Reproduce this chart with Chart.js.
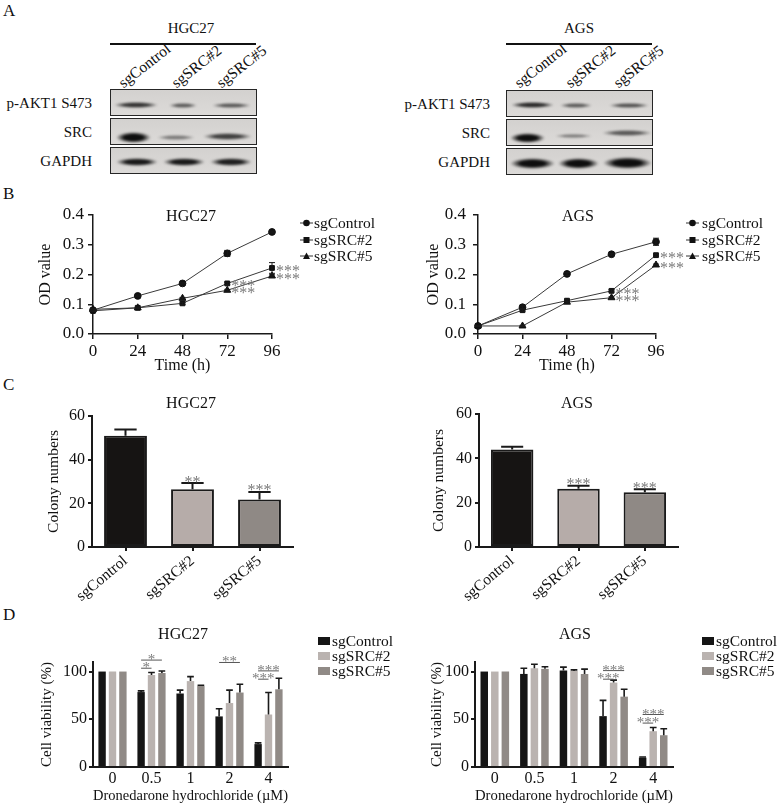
<!DOCTYPE html>
<html>
<head>
<meta charset="utf-8">
<script src="https://cdn.jsdelivr.net/npm/chart.js@4.4.1/dist/chart.umd.min.js"></script>
<style>
  html, body { margin: 0; padding: 0; background: #fff; }
  #page { position: relative; width: 777px; height: 805px; overflow: hidden;
          font-family: "Liberation Serif", "Times New Roman", serif; color: #111; }
  .txt { position: absolute; white-space: nowrap; line-height: 1; }
  canvas { position: absolute; }
  .rule { position: absolute; height: 1.5px; background: #111; }
  .blot { position: absolute; box-sizing: border-box; border: 1.5px solid #262626;
          background: linear-gradient(#d3d1cf, #dcdad8); overflow: hidden; }
  .band { position: absolute; filter: blur(0.8px); }
  .key { position: absolute; }
</style>
</head>
<body>
<div id="page"></div>
<script>
// ---- data ----
const seriesNames = ['sgControl', 'sgSRC#2', 'sgSRC#5'];

// B: proliferation (OD value)
const timeHours = [0, 24, 48, 72, 96];
const odTicks = [0, 0.1, 0.2, 0.3, 0.4];
const hgcOdControl = [0.080, 0.128, 0.170, 0.271, 0.343];
const hgcOdSrc2 = [0.078, 0.088, 0.103, 0.170, 0.222];
const hgcOdSrc5 = [0.083, 0.088, 0.120, 0.147, 0.195];
const hgcOdControlErr = [0.003, 0.003, 0.002, 0.010, 0.003];
const hgcOdSrc2Err = [0.003, 0.002, 0.004, 0.004, 0.018];
const hgcOdSrc5Err = [0.003, 0.002, 0.003, 0.003, 0.004];
const agsOdControl = [0.027, 0.090, 0.202, 0.268, 0.310];
const agsOdSrc2 = [0.027, 0.080, 0.112, 0.145, 0.265];
const agsOdSrc5 = [0.027, 0.027, 0.107, 0.122, 0.232];
const agsOdControlErr = [0.002, 0.004, 0.005, 0.003, 0.012];
const agsOdSrc2Err = [0.002, 0.003, 0.004, 0.004, 0.004];
const agsOdSrc5Err = [0.002, 0.002, 0.003, 0.003, 0.003];
const odSigNone = ['', '', '', '', ''];
const odSig = ['', '', '', '***', '***'];

// C: colony formation
const colonyTicks = [0, 20, 40, 60];
const hgcColony = [51, 26.5, 21.8];
const hgcColonyErr = [2.8, 2.8, 3.4];
const hgcColonySig = ['', '**', '***'];
const agsColony = [44, 26.3, 24.7];
const agsColonyErr = [1.2, 1.3, 1.4];
const agsColonySig = ['', '***', '***'];

// D: cell viability vs dronedarone dose
const doses = ['0', '0.5', '1', '2', '4'];
const viabilityTicks = [0, 50, 100];
const hgcViaControl = [100, 78.5, 77, 53, 24];
const hgcViaSrc2 = [100, 96.5, 90, 67, 55];
const hgcViaSrc5 = [100, 98.5, 85, 78, 81.4];
const hgcViaControlErr = [0, 1.2, 3.5, 8, 1.3];
const hgcViaSrc2Err = [0, 2.5, 4.7, 13.5, 23];
const hgcViaSrc5Err = [0, 2, 0.6, 8.7, 11.6];
const agsViaControl = [100, 97.5, 101, 53.3, 9.8];
const agsViaSrc2 = [100, 103.5, 100.7, 88.4, 37.5];
const agsViaSrc5 = [100, 102.8, 97.5, 73.7, 33.3];
const agsViaControlErr = [0, 6, 3.6, 16.5, 0.7];
const agsViaSrc2Err = [0, 4.2, 1.1, 2.6, 3.9];
const agsViaSrc5Err = [0, 2.2, 5, 7.7, 6.7];
const hgcViaBrackets = [
  { dose: 1, from: 0, to: 1, level: 103.5, mark: '*' },
  { dose: 1, from: 0, to: 2, level: 112, mark: '*' },
  { dose: 3, from: 0, to: 2, level: 109.5, mark: '**' },
  { dose: 4, from: 0, to: 1, level: 92, mark: '***' },
  { dose: 4, from: 0, to: 2, level: 100.7, mark: '***' }
];
const agsViaBrackets = [
  { dose: 3, from: 0, to: 1, level: 92, mark: '***' },
  { dose: 3, from: 0, to: 2, level: 101, mark: '***' },
  { dose: 4, from: 0, to: 1, level: 46, mark: '***' },
  { dose: 4, from: 0, to: 2, level: 55, mark: '***' }
];

// ---- look ----
const SERIF = '"Liberation Serif", "Times New Roman", serif';
const AXIS = '#1a1a1a';
const STAR = '#7a7a7a';
const colonyColors = ['#161413', '#b6aca9', '#8f8985'];
const viaColors = ['#151515', '#bab3b0', '#908a86'];
const odShapes = ['circle', 'rect', 'triangle'];

Chart.defaults.font.family = SERIF;
Chart.defaults.font.size = 15;
Chart.defaults.color = '#111';

const page = document.getElementById('page');

function addText(str, x, y, size, anchor) {
  const d = document.createElement('div');
  d.className = 'txt';
  d.textContent = str;
  d.style.fontSize = size + 'px';
  d.style.left = x + 'px';
  d.style.top = y + 'px';
  const tx = anchor === 'left' ? '0' : anchor === 'right' ? '-100%' : '-50%';
  d.style.transform = 'translate(' + tx + ', -50%)';
  page.appendChild(d);
  return d;
}

function addSlanted(str, x, y, size, angle) {
  const d = document.createElement('div');
  d.className = 'txt';
  d.textContent = str;
  d.style.fontSize = size + 'px';
  d.style.left = x + 'px';
  d.style.top = (y - size) + 'px';
  d.style.transformOrigin = '0 100%';
  d.style.transform = 'rotate(' + angle + 'deg)';
  page.appendChild(d);
}

function addRule(x1, x2, y) {
  const d = document.createElement('div');
  d.className = 'rule';
  d.style.left = x1 + 'px';
  d.style.width = (x2 - x1) + 'px';
  d.style.top = y + 'px';
  page.appendChild(d);
}

function makeCanvas(left, top, w, h) {
  const c = document.createElement('canvas');
  c.width = w; c.height = h;
  c.style.left = left + 'px';
  c.style.top = top + 'px';
  page.appendChild(c);
  return c;
}

// ---- panel letters ----
addText('A', 3, 10, 17, 'left');
addText('B', 3, 193, 17, 'left');
addText('C', 3, 384, 17, 'left');
addText('D', 3, 614, 17, 'left');

// ---- A: western blots (drawn as shapes, not data) ----
const blotPanels = [
  { cell: 'HGC27', left: 110, titleX: 191, labelRight: 92, lanesX: [125, 178, 223],
    rows: [
      { top: 89, bands: [[3, 47, 15, 6, .8], [58, 86, 15, 5, .6], [101, 140, 15, 5, .62]] },
      { top: 118, bands: [[5, 40, 18, 11, 1], [46, 84, 18, 5, .45], [92, 141, 17, 7, .75]] },
      { top: 147, bands: [[5, 47, 14, 8, .95], [52, 94, 14, 8, .95], [99, 141, 14, 8, .92]] }
    ] },
  { cell: 'AGS', left: 506, titleX: 579, labelRight: 490, lanesX: [521, 572, 620],
    rows: [
      { top: 90, bands: [[4, 47, 14, 6, .85], [53, 85, 14, 5, .6], [102, 142, 14, 5, .65]] },
      { top: 119, bands: [[3, 38, 18, 10, 1], [48, 85, 16, 4, .45], [95, 145, 13, 6, .62]] },
      { top: 148, bands: [[3, 48, 14, 11, 1], [51, 92, 14, 11, 1], [96, 145, 14, 12, 1]] }
    ] }
];
const blotRowNames = ['p-AKT1 S473', 'SRC', 'GAPDH'];

blotPanels.forEach(p => {
  addText(p.cell, p.titleX, 28, 15);
  addRule(p.left, p.left + 146, 43);
  seriesNames.forEach((name, i) => addSlanted(name, p.lanesX[i], 90, 15.5, -38));
  p.rows.forEach((row, r) => {
    const box = document.createElement('div');
    box.className = 'blot';
    box.style.left = p.left + 'px';
    box.style.top = row.top + 'px';
    box.style.width = '147px';
    box.style.height = '27px';
    row.bands.forEach(b => {
      const d = document.createElement('div');
      d.className = 'band';
      d.style.left = b[0] + 'px';
      d.style.width = (b[1] - b[0]) + 'px';
      d.style.top = (b[2] - b[3] / 2) + 'px';
      d.style.height = b[3] + 'px';
      d.style.background = 'radial-gradient(closest-side, rgba(14,14,14,' + b[4] + ') 0%, rgba(14,14,14,' +
        b[4] + ') 55%, rgba(14,14,14,0) 100%)';
      box.appendChild(d);
    });
    page.appendChild(box);
    addText(blotRowNames[r], p.labelRight, row.top + 14, 15, 'right');
  });
});

// ---- chart helpers ----
function fixedBox(size, horizontal) {
  return function (scale) {
    if (horizontal) scale.height = size; else scale.width = size;
    scale.paddingLeft = 0; scale.paddingRight = 0;
    scale.paddingTop = 0; scale.paddingBottom = 0;
  };
}
function setTicks(values) {
  return function (scale) { scale.ticks = values.map(v => ({ value: v })); };
}

const errorBarPlugin = {
  id: 'errorBars',
  afterDatasetsDraw(chart, args, opts) {
    const ctx = chart.ctx;
    const yScale = chart.scales.y;
    ctx.save();
    ctx.strokeStyle = AXIS;
    ctx.lineWidth = opts.lineWidth;
    chart.data.datasets.forEach((ds, i) => {
      if (!ds.errors) return;
      chart.getDatasetMeta(i).data.forEach((el, j) => {
        const err = ds.errors[j];
        if (!err) return;
        const raw = ds.data[j];
        const v = typeof raw === 'object' ? raw.y : raw;
        const yTop = yScale.getPixelForValue(v + err);
        const yBot = opts.upOnly ? el.y : yScale.getPixelForValue(v - err);
        const half = opts.capWidth ? opts.capWidth / 2 : el.width * opts.capRatio / 2;
        ctx.beginPath();
        ctx.moveTo(el.x, yBot); ctx.lineTo(el.x, yTop);
        ctx.moveTo(el.x - half, yTop); ctx.lineTo(el.x + half, yTop);
        if (!opts.upOnly) { ctx.moveTo(el.x - half, yBot); ctx.lineTo(el.x + half, yBot); }
        ctx.stroke();
      });
    });
    ctx.restore();
  }
};

const sigPlugin = {
  id: 'sigMarks',
  afterDatasetsDraw(chart, args, opts) {
    const ctx = chart.ctx;
    const yScale = chart.scales.y;
    ctx.save();
    ctx.fillStyle = STAR;
    ctx.font = opts.size + 'px ' + SERIF;
    ctx.textBaseline = 'alphabetic';
    chart.data.datasets.forEach((ds, i) => {
      if (!ds.marks) return;
      chart.getDatasetMeta(i).data.forEach((el, j) => {
        const m = ds.marks[j];
        if (!m) return;
        if (opts.mode === 'right') {
          ctx.textAlign = 'left';
          ctx.fillText(m, el.x + 4, el.y + 8);
        } else {
          const top = yScale.getPixelForValue(ds.data[j] + (ds.errors ? ds.errors[j] : 0));
          ctx.textAlign = 'center';
          ctx.fillText(m, el.x, top + 3.5);
        }
      });
    });
    ctx.restore();
  }
};

const bracketPlugin = {
  id: 'brackets',
  afterDatasetsDraw(chart, args, opts) {
    if (!opts.items) return;
    const ctx = chart.ctx;
    ctx.save();
    ctx.strokeStyle = '#555';
    ctx.fillStyle = STAR;
    ctx.lineWidth = 1;
    ctx.font = '15px ' + SERIF;
    ctx.textAlign = 'center';
    opts.items.forEach(b => {
      const x1 = chart.getDatasetMeta(b.from).data[b.dose].x;
      const x2 = chart.getDatasetMeta(b.to).data[b.dose].x;
      const y = chart.scales.y.getPixelForValue(b.level);
      ctx.beginPath();
      ctx.moveTo(x1, y); ctx.lineTo(x2, y);
      ctx.stroke();
      ctx.fillText(b.mark, (x1 + x2) / 2, y + 4);
    });
    ctx.restore();
  }
};

function axisStyle(width, tickLen) {
  return {
    border: { display: true, color: AXIS, width: width },
    grid: { display: tickLen > 0, drawOnChartArea: false, drawTicks: tickLen > 0,
            tickLength: tickLen, color: AXIS, lineWidth: width, offset: false }
  };
}

// ---- B: OD line charts ----
function odChart(cfg) {
  const canvas = makeCanvas(cfg.left, 200, 300, 175);
  new Chart(canvas, {
    type: 'line',
    data: {
      datasets: seriesNames.map((name, i) => ({
        label: name,
        data: timeHours.map((t, j) => ({ x: t, y: cfg.values[i][j] })),
        errors: cfg.errors[i],
        marks: cfg.marks[i],
        borderColor: '#3a3a3a',
        borderWidth: 1,
        pointStyle: odShapes[i],
        pointRadius: i === 2 ? 4 : 3.4,
        pointBackgroundColor: '#111',
        pointBorderColor: '#111',
        pointBorderWidth: 1,
        clip: false
      }))
    },
    options: {
      responsive: false,
      animation: false,
      layout: { padding: { top: 15, right: cfg.padRight, left: 0, bottom: 0 } },
      plugins: {
        legend: { display: false },
        tooltip: { enabled: false },
        errorBars: { lineWidth: 1, capWidth: 6, upOnly: false },
        sigMarks: { mode: 'right', size: 16 }
      },
      scales: {
        x: Object.assign(axisStyle(1.5, 5), {
          type: 'linear', min: 0, max: 96,
          afterBuildTicks: setTicks(timeHours),
          afterFit: fixedBox(41, true),
          ticks: { font: { size: 17 }, padding: 2, color: '#111' },
          title: { display: true, text: 'Time (h)', font: { size: 16 }, color: '#111',
                   padding: { top: 0, bottom: 0 } }
        }),
        y: Object.assign(axisStyle(1.5, 5), {
          min: 0, max: 0.4,
          afterBuildTicks: setTicks(odTicks),
          afterFit: fixedBox(cfg.yWidth, false),
          ticks: { font: { size: 17 }, padding: cfg.tickPad, color: '#111', callback: v => v.toFixed(1) },
          title: { display: true, text: 'OD value', font: { size: 16 }, color: '#111',
                   padding: { top: cfg.titlePad, bottom: 0 } }
        })
      }
    },
    plugins: [errorBarPlugin, sigPlugin]
  });
}

odChart({ left: 0, yWidth: 93, padRight: 28, titlePad: 36, tickPad: 4,
  values: [hgcOdControl, hgcOdSrc2, hgcOdSrc5],
  errors: [hgcOdControlErr, hgcOdSrc2Err, hgcOdSrc5Err],
  marks: [odSigNone, odSig, odSig] });
odChart({ left: 390, yWidth: 88, padRight: 34, titlePad: 34, tickPad: 7,
  values: [agsOdControl, agsOdSrc2, agsOdSrc5],
  errors: [agsOdControlErr, agsOdSrc2Err, agsOdSrc5Err],
  marks: [odSigNone, odSig, odSig] });
addText('HGC27', 191, 216, 16);
addText('AGS', 578, 216, 16);

// line legends
function lineKey(x, y, shape) {
  const ns = 'http://www.w3.org/2000/svg';
  const svg = document.createElementNS(ns, 'svg');
  svg.setAttribute('width', '13');
  svg.setAttribute('height', '10');
  svg.setAttribute('class', 'key');
  svg.style.left = x + 'px';
  svg.style.top = (y - 5) + 'px';
  const ln = document.createElementNS(ns, 'line');
  ln.setAttribute('x1', '0'); ln.setAttribute('x2', '13');
  ln.setAttribute('y1', '5'); ln.setAttribute('y2', '5');
  ln.setAttribute('stroke', '#333'); ln.setAttribute('stroke-width', '1');
  svg.appendChild(ln);
  let m;
  if (shape === 'circle') {
    m = document.createElementNS(ns, 'circle');
    m.setAttribute('cx', '6.5'); m.setAttribute('cy', '5'); m.setAttribute('r', '3.3');
  } else if (shape === 'rect') {
    m = document.createElementNS(ns, 'rect');
    m.setAttribute('x', '3.5'); m.setAttribute('y', '2'); m.setAttribute('width', '6'); m.setAttribute('height', '6');
  } else {
    m = document.createElementNS(ns, 'polygon');
    m.setAttribute('points', '6.5,1.5 10,8 3,8');
  }
  m.setAttribute('fill', '#111');
  svg.appendChild(m);
  page.appendChild(svg);
}
[[300, 314], [686, 702]].forEach(pos => {
  seriesNames.forEach((name, i) => {
    const y = [223, 240, 256][i];
    lineKey(pos[0], y, odShapes[i]);
    addText(name, pos[1], y, 15.5, 'left');
  });
});

// ---- C: colony bar charts ----
function colonyChart(cfg) {
  const canvas = makeCanvas(cfg.left, 390, 310, 215);
  new Chart(canvas, {
    type: 'bar',
    data: {
      labels: seriesNames,
      datasets: [{
        data: cfg.values,
        errors: cfg.errors,
        marks: cfg.marks,
        backgroundColor: colonyColors,
        borderColor: AXIS,
        borderWidth: 2,
        borderSkipped: false,
        categoryPercentage: 1,
        barPercentage: 0.64
      }]
    },
    options: {
      responsive: false,
      animation: false,
      layout: { padding: { top: cfg.padTop, right: cfg.padRight, left: 0, bottom: 0 } },
      plugins: {
        legend: { display: false },
        tooltip: { enabled: false },
        errorBars: { lineWidth: 2, capRatio: 0.52, upOnly: true },
        sigMarks: { mode: 'above', size: 16 }
      },
      scales: {
        x: Object.assign(axisStyle(2, 4), {
          afterFit: fixedBox(58, true),
          ticks: { font: { size: 15.5 }, padding: 1, color: '#111', autoSkip: false,
                   minRotation: 40, maxRotation: 40 }
        }),
        y: Object.assign(axisStyle(2, 4), {
          min: 0, max: 60,
          afterBuildTicks: setTicks(colonyTicks),
          afterFit: fixedBox(cfg.yWidth, false),
          ticks: { font: { size: 16 }, padding: 3, color: '#111' },
          title: { display: true, text: 'Colony numbers', font: { size: 15.5 }, color: '#111',
                   padding: { top: cfg.titlePad, bottom: 0 } }
        })
      }
    },
    plugins: [errorBarPlugin, sigPlugin]
  });
}

colonyChart({ left: 0, yWidth: 92, padTop: 26, padRight: 17, titlePad: 45,
  values: hgcColony, errors: hgcColonyErr, marks: hgcColonySig });
colonyChart({ left: 390, yWidth: 89, padTop: 24, padRight: 22, titlePad: 40,
  values: agsColony, errors: agsColonyErr, marks: agsColonySig });
addText('HGC27', 191, 403, 16);
addText('AGS', 577, 403, 16);

// ---- D: viability grouped bars ----
function viabilityChart(cfg) {
  const canvas = makeCanvas(cfg.left, 625, 300, 180);
  new Chart(canvas, {
    type: 'bar',
    data: {
      labels: doses,
      datasets: seriesNames.map((name, i) => ({
        label: name,
        data: cfg.values[i],
        errors: cfg.errors[i],
        backgroundColor: viaColors[i],
        borderWidth: 0,
        categoryPercentage: 0.8,
        barPercentage: 0.71
      }))
    },
    options: {
      responsive: false,
      animation: false,
      layout: { padding: { top: 37, right: cfg.padRight, left: 0, bottom: 0 } },
      plugins: {
        legend: { display: false },
        tooltip: { enabled: false },
        errorBars: { lineWidth: 1.6, capRatio: 0.9, upOnly: true },
        brackets: { items: cfg.brackets }
      },
      scales: {
        x: Object.assign(axisStyle(2, 0), {
          afterFit: fixedBox(38, true),
          ticks: { font: { size: 16 }, padding: 2, color: '#111' },
          title: { display: true, text: 'Dronedarone hydrochloride (\u00b5M)', font: { size: 15.5 },
                   color: '#111', padding: { top: 0, bottom: 0 } }
        }),
        y: Object.assign(axisStyle(2, 4), {
          min: 0, max: 110,
          afterBuildTicks: setTicks(viabilityTicks),
          afterFit: fixedBox(cfg.yWidth, false),
          ticks: { font: { size: 16 }, padding: 2, color: '#111' },
          title: { display: true, text: 'Cell viability (%)', font: { size: 15 }, color: '#111',
                   padding: { top: cfg.titlePad, bottom: 0 } }
        })
      }
    },
    plugins: [errorBarPlugin, bracketPlugin]
  });
}

viabilityChart({ left: 0, yWidth: 93, padRight: 12, titlePad: 38,
  values: [hgcViaControl, hgcViaSrc2, hgcViaSrc5],
  errors: [hgcViaControlErr, hgcViaSrc2Err, hgcViaSrc5Err],
  brackets: hgcViaBrackets });
viabilityChart({ left: 390, yWidth: 85, padRight: 17, titlePad: 38,
  values: [agsViaControl, agsViaSrc2, agsViaSrc5],
  errors: [agsViaControlErr, agsViaSrc2Err, agsViaSrc5Err],
  brackets: agsViaBrackets });
addText('HGC27', 183, 634, 16);
addText('AGS', 575, 634, 16);

// square legends
[[318, 332], [702, 716]].forEach(pos => {
  seriesNames.forEach((name, i) => {
    const y = [641, 656, 671][i];
    const sq = document.createElement('div');
    sq.className = 'key';
    sq.style.left = pos[0] + 'px';
    sq.style.top = (y - 4) + 'px';
    sq.style.width = '12px';
    sq.style.height = '8px';
    sq.style.background = viaColors[i];
    page.appendChild(sq);
    addText(name, pos[1], y, 15.5, 'left');
  });
});
</script>
</body>
</html>
